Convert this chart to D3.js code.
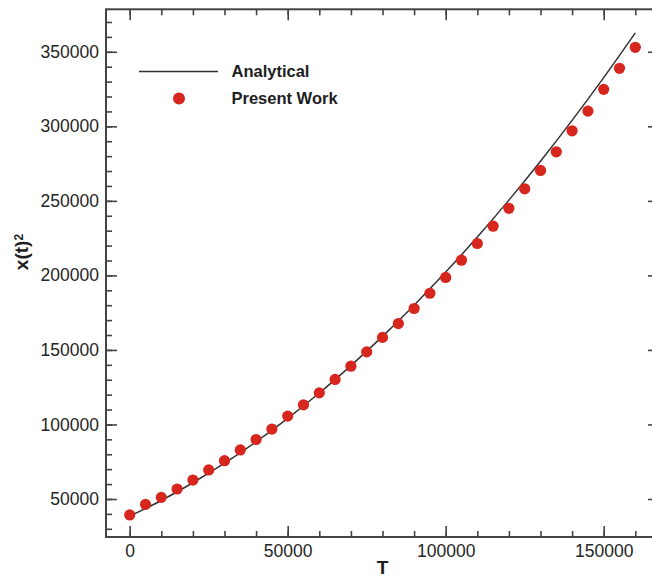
<!DOCTYPE html>
<html>
<head>
<meta charset="utf-8">
<script src="https://cdn.jsdelivr.net/npm/d3@7"></script>
<style>
  html, body { margin: 0; padding: 0; background: #fff; }
  svg { display: block; font-family: "Liberation Sans", Arial, sans-serif; }
  .axis path { display: none; }
  .axis line { stroke: #444; stroke-width: 1.6; }
  .axis text { fill: #252525; font-size: 17.5px; }
  .frame { fill: none; stroke: #444; stroke-width: 2; }
  .analytical { fill: none; stroke: #333; stroke-width: 1.5; }
  .present { fill: #d7261e; }
  .label { fill: #1e1e1e; font-weight: bold; }
</style>
</head>
<body>
<svg width="652" height="577"></svg>
<script>
// time values of the present work points
const timePoints = [
  0, 5000, 10000, 15000, 20000, 25000, 30000, 35000, 40000, 45000, 50000,
  55000, 60000, 65000, 70000, 75000, 80000, 85000, 90000, 95000, 100000,
  105000, 110000, 115000, 120000, 125000, 130000, 135000, 140000, 145000,
  150000, 155000, 160000
];
const presentWork = [
  39300, 46400, 51100, 56700, 62700, 69500, 75700, 82900, 89900, 96900, 105600,
  113200, 121200, 130200, 139100, 148700, 158400, 167700, 177800, 188000, 198600,
  210200, 221400, 233000, 245000, 258100, 270400, 282900, 297000, 310200,
  324800, 338900, 353000
];

// analytical curve, every 10000
const timeLine = [
  0, 10000, 20000, 30000, 40000, 50000, 60000, 70000, 80000,
  90000, 100000, 110000, 120000, 130000, 140000, 150000, 160000
];
const analytical = [
  38500, 49000, 60900, 74000, 88400, 104100, 121100, 139500, 159100,
  180000, 202200, 225700, 250500, 276600, 304000, 332700, 362700
];

const xMajor = [0, 50000, 100000, 150000];
const xMinor = d3.range(0, 160001, 10000);
const yMajor = [50000, 100000, 150000, 200000, 250000, 300000, 350000];
const yMinor = d3.range(30000, 370001, 10000);

const legendItems = ['Analytical', 'Present Work'];

class SquareChart {
  constructor() {
    this.svg = d3.select('svg');
    this.box = { left: 106, right: 659, top: 9.3, bottom: 537 };
    this.x = d3.scaleLinear().domain([-7500, 167500]).range([this.box.left, this.box.right]);
    this.y = d3.scaleLinear().domain([24500, 378500]).range([this.box.bottom, this.box.top]);
  }

  draw() {
    this.drawAxes();
    this.drawLine();
    this.drawPoints();
    this.drawLegend();
    this.drawLabels();
  }

  axisGroup(axis, transform) {
    this.svg.append('g')
      .attr('class', 'axis')
      .attr('transform', transform)
      .call(axis);
  }

  drawAxes() {
    const { left, right, top, bottom } = this.box;
    const x = this.x, y = this.y;
    const none = () => '';

    // minor ticks first, major ticks on top
    this.axisGroup(d3.axisBottom(x).tickValues(xMinor).tickSize(-6).tickFormat(none), `translate(0,${bottom})`);
    this.axisGroup(d3.axisTop(x).tickValues(xMinor).tickSize(-6).tickFormat(none), `translate(0,${top})`);
    this.axisGroup(d3.axisLeft(y).tickValues(yMinor).tickSize(-6).tickFormat(none), `translate(${left},0)`);
    this.axisGroup(d3.axisRight(y).tickValues(yMinor).tickSize(-6).tickFormat(none), `translate(${right},0)`);

    this.axisGroup(d3.axisBottom(x).tickValues(xMajor).tickSize(-11).tickPadding(8).tickFormat(d3.format('d')), `translate(0,${bottom})`);
    this.axisGroup(d3.axisTop(x).tickValues(xMajor).tickSize(-11).tickFormat(none), `translate(0,${top})`);
    this.axisGroup(d3.axisLeft(y).tickValues(yMajor).tickSize(-11).tickPadding(7).tickFormat(d3.format('d')), `translate(${left},0)`);
    this.axisGroup(d3.axisRight(y).tickValues(yMajor).tickSize(-11).tickFormat(none), `translate(${right},0)`);

    this.svg.append('rect')
      .attr('class', 'frame')
      .attr('x', left).attr('y', top)
      .attr('width', right - left).attr('height', bottom - top);
  }

  drawLine() {
    const line = d3.line()
      .x((d, i) => this.x(timeLine[i]))
      .y(d => this.y(d))
      .curve(d3.curveMonotoneX);

    this.svg.append('path')
      .datum(analytical)
      .attr('class', 'analytical')
      .attr('d', line);
  }

  drawPoints() {
    this.svg.append('g')
      .selectAll('circle')
      .data(presentWork)
      .enter().append('circle')
        .attr('class', 'present')
        .attr('cx', (d, i) => this.x(timePoints[i]))
        .attr('cy', d => this.y(d))
        .attr('r', 5.6);
  }

  drawLegend() {
    const g = this.svg.append('g');

    g.append('line')
      .attr('class', 'analytical')
      .attr('x1', 139).attr('x2', 218)
      .attr('y1', 71.5).attr('y2', 71.5);

    g.append('circle')
      .attr('class', 'present')
      .attr('cx', 179).attr('cy', 98.5)
      .attr('r', 6);

    g.selectAll('text')
      .data(legendItems)
      .enter().append('text')
        .attr('class', 'label')
        .attr('x', 231.5)
        .attr('y', (d, i) => 77 + i * 26.5)
        .style('font-size', '16.5px')
        .text(d => d);
  }

  drawLabels() {
    this.svg.append('text')
      .attr('class', 'label')
      .attr('x', (this.box.left + this.box.right) / 2)
      .attr('y', 574)
      .attr('text-anchor', 'middle')
      .style('font-size', '19px')
      .text('T');

    const yl = this.svg.append('text')
      .attr('class', 'label')
      .attr('transform', 'translate(28,252) rotate(-90)')
      .attr('text-anchor', 'middle')
      .style('font-size', '19px');
    yl.append('tspan').text('x(t)');
    yl.append('tspan').attr('dy', '-0.45em').style('font-size', '12px').text('2');
  }
}

new SquareChart().draw();
</script>
</body>
</html>
